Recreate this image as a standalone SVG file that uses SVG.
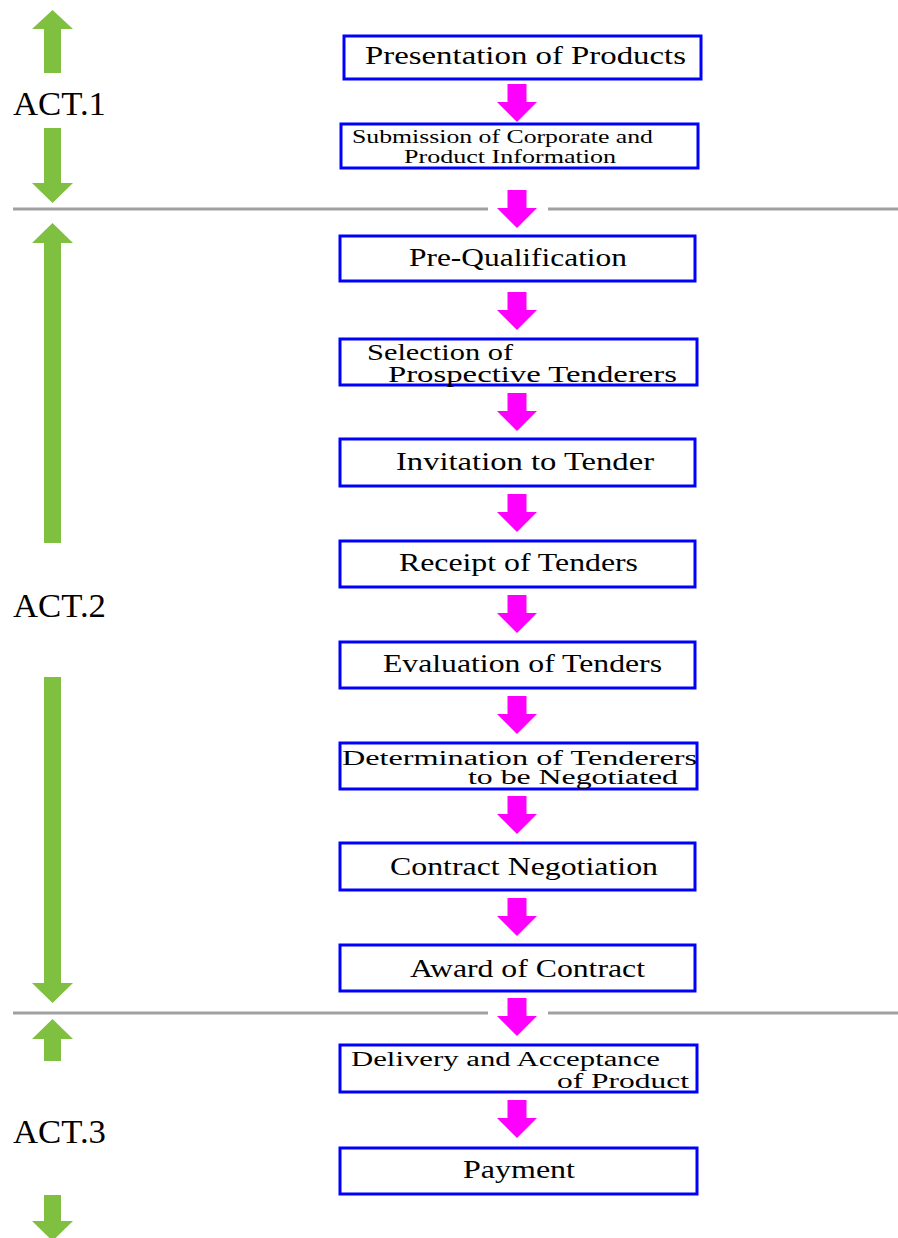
<svg xmlns="http://www.w3.org/2000/svg" width="898" height="1238" viewBox="0 0 898 1238">
<style>
.box{fill:#fff;stroke:#0000ff;stroke-width:3}
.t{font-family:"Liberation Serif",serif;font-size:25px;fill:#000}
.t2{font-family:"Liberation Serif",serif;font-size:23px;fill:#000}
.t3{font-family:"Liberation Serif",serif;font-size:20px;fill:#000}
.s{font-family:"Liberation Serif",serif;font-size:19px;fill:#000}
.act{font-family:"Liberation Serif",serif;font-size:33px;fill:#000}
.mag{fill:#ff00ff}
.grn{fill:#80c040}
.sep{stroke:#a0a0a0;stroke-width:3}
</style>
<defs>
<path id="ma" d="M-9.5,0 H9.5 V18 H20 L0,38 L-20,18 H-9.5 Z"/>
</defs>
<g id="separators">
<line class="sep" x1="13" y1="209" x2="488" y2="209"/>
<line class="sep" x1="548" y1="209" x2="898" y2="209"/>
<line class="sep" x1="13" y1="1013" x2="488" y2="1013"/>
<line class="sep" x1="548" y1="1013" x2="898" y2="1013"/>
</g>
<g id="act-labels">
<g id="act1">
<path class="grn" d="M52.5,10 L73,29 H61 V73 H44 V29 H32 Z"/>
<path class="grn" d="M44,128 H61 V183 H73 L52.5,203 L32,183 H44 Z"/>
<text class="act" x="13" y="115" textLength="93" lengthAdjust="spacingAndGlyphs">ACT.1</text>
</g>
<g id="act2">
<path class="grn" d="M52.5,223 L73,243 H61 V543 H44 V243 H32 Z"/>
<path class="grn" d="M44,677 H61 V983 H73 L52.5,1003 L32,983 H44 Z"/>
<text class="act" x="13" y="617" textLength="93" lengthAdjust="spacingAndGlyphs">ACT.2</text>
</g>
<g id="act3">
<path class="grn" d="M52.5,1019 L73,1039 H61 V1061 H44 V1039 H32 Z"/>
<path class="grn" d="M44,1195 H61 V1221 H73 L52.5,1241 L32,1221 H44 Z"/>
<text class="act" x="13" y="1143" textLength="93" lengthAdjust="spacingAndGlyphs">ACT.3</text>
</g>
</g>
<g id="connectors">
<use href="#ma" class="mag" x="517" y="84"/>
<use href="#ma" class="mag" x="517" y="190"/>
<use href="#ma" class="mag" x="517" y="292"/>
<use href="#ma" class="mag" x="517" y="393"/>
<use href="#ma" class="mag" x="517" y="494"/>
<use href="#ma" class="mag" x="517" y="595"/>
<use href="#ma" class="mag" x="517" y="696"/>
<use href="#ma" class="mag" x="517" y="796"/>
<use href="#ma" class="mag" x="517" y="898"/>
<use href="#ma" class="mag" x="517" y="998"/>
<use href="#ma" class="mag" x="517" y="1100"/>
</g>
<g id="n1"><rect class="box" x="344" y="36" width="357" height="43"/><text class="t" x="365" y="64" textLength="321" lengthAdjust="spacingAndGlyphs">Presentation of Products</text></g>
<g id="n2"><rect class="box" x="341" y="124" width="357" height="44"/><text class="s" x="352" y="143" textLength="301" lengthAdjust="spacingAndGlyphs">Submission of Corporate and</text><text class="s" x="404" y="163" textLength="212" lengthAdjust="spacingAndGlyphs">Product Information</text></g>
<g id="n3"><rect class="box" x="340" y="236" width="355" height="45"/><text class="t" x="409" y="266" textLength="218" lengthAdjust="spacingAndGlyphs">Pre-Qualification</text></g>
<g id="n4"><rect class="box" x="340" y="339" width="357" height="46"/><text class="t2" x="367" y="360" textLength="146" lengthAdjust="spacingAndGlyphs">Selection of</text><text class="t2" x="388" y="382" textLength="289" lengthAdjust="spacingAndGlyphs">Prospective Tenderers</text></g>
<g id="n5"><rect class="box" x="340" y="439" width="355" height="47"/><text class="t" x="396" y="470" textLength="258" lengthAdjust="spacingAndGlyphs">Invitation to Tender</text></g>
<g id="n6"><rect class="box" x="340" y="541" width="355" height="46"/><text class="t" x="399" y="571" textLength="239" lengthAdjust="spacingAndGlyphs">Receipt of Tenders</text></g>
<g id="n7"><rect class="box" x="340" y="642" width="355" height="46"/><text class="t" x="383" y="672" textLength="279" lengthAdjust="spacingAndGlyphs">Evaluation of Tenders</text></g>
<g id="n8"><rect class="box" x="340" y="743" width="357" height="46"/><text class="t3" x="342" y="765" textLength="355" lengthAdjust="spacingAndGlyphs">Determination of Tenderers</text><text class="t3" x="468" y="784" textLength="210" lengthAdjust="spacingAndGlyphs">to be Negotiated</text></g>
<g id="n9"><rect class="box" x="340" y="843" width="355" height="47"/><text class="t" x="390" y="875" textLength="268" lengthAdjust="spacingAndGlyphs">Contract Negotiation</text></g>
<g id="n10"><rect class="box" x="340" y="945" width="355" height="46"/><text class="t" x="410" y="977" textLength="235" lengthAdjust="spacingAndGlyphs">Award of Contract</text></g>
<g id="n11"><rect class="box" x="340" y="1045" width="357" height="47"/><text class="t3" x="351" y="1066" textLength="309" lengthAdjust="spacingAndGlyphs">Delivery and Acceptance</text><text class="t3" x="557" y="1088" textLength="132" lengthAdjust="spacingAndGlyphs">of Product</text></g>
<g id="n12"><rect class="box" x="340" y="1148" width="357" height="46"/><text class="t" x="463" y="1178" textLength="112" lengthAdjust="spacingAndGlyphs">Payment</text></g>
</svg>
